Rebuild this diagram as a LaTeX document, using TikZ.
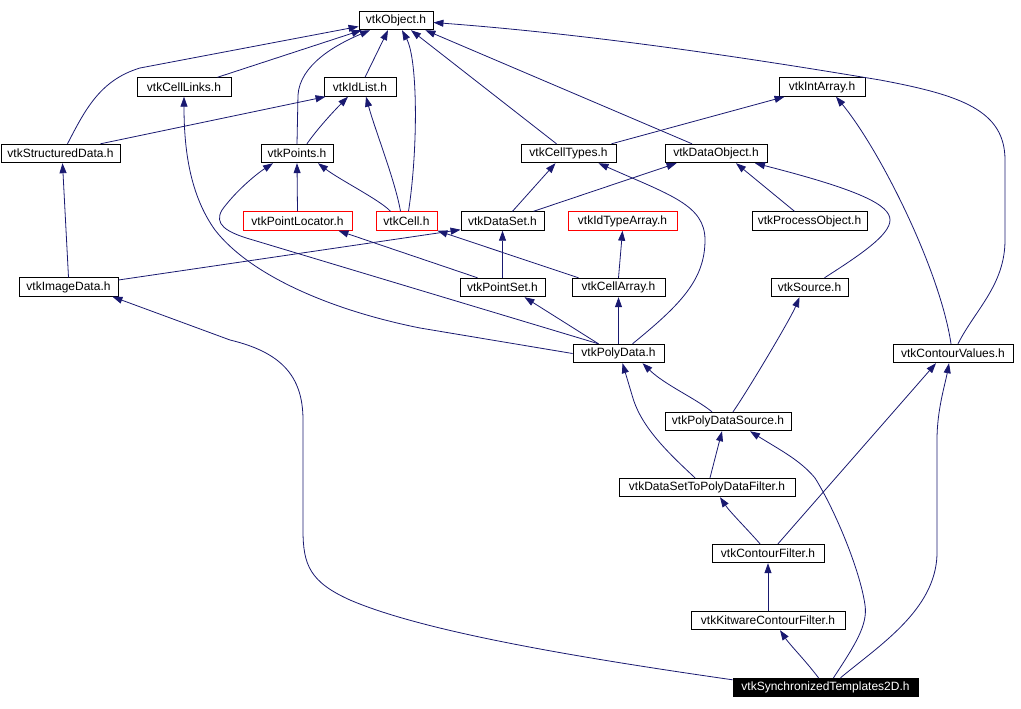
\documentclass[tikz,border=0pt]{standalone}
\usepackage{fontspec}
\setsansfont{Liberation Sans}
\usepackage{xcolor}
\usepackage{tikz}
\usetikzlibrary{arrows.meta}
\definecolor{dgblue}{HTML}{191970}
\definecolor{dgred}{HTML}{FF0000}

\begin{document}
\begin{tikzpicture}[x=1pt, y=-1pt,
  hdr/.style={draw=black, line width=0.9pt, inner sep=0pt, minimum height=18.5pt,
    font=\sffamily\fontsize{12}{14}\selectfont, text=black},
  undoc/.style={hdr, draw=dgred},
  self/.style={hdr, fill=black, text=white},
  dep/.style={draw=dgblue, line width=0.8pt, -{Triangle[length=10pt,width=7pt]}}]
\useasboundingbox (0,0) rectangle (1021,709);
\node[hdr, minimum width=74pt] (obj) at (396,20.5) {vtkObject.h};
\node[hdr, minimum width=94pt] (links) at (184,87) {vtkCellLinks.h};
\node[hdr, minimum width=72pt] (idl) at (360,87) {vtkIdList.h};
\node[hdr, minimum width=86pt] (intarr) at (822,87) {vtkIntArray.h};
\node[hdr, minimum width=119pt] (sdata) at (60.5,153.5) {vtkStructuredData.h};
\node[hdr, minimum width=72pt] (pts) at (297,153.5) {vtkPoints.h};
\node[hdr, minimum width=95pt] (ctypes) at (568.5,153.5) {vtkCellTypes.h};
\node[hdr, minimum width=102pt] (dobj) at (716,153.5) {vtkDataObject.h};
\node[undoc, minimum width=109pt] (ploc) at (297.5,221) {vtkPointLocator.h};
\node[undoc, minimum width=61pt] (cell) at (406.5,221) {vtkCell.h};
\node[hdr, minimum width=83pt] (dset) at (502.5,221) {vtkDataSet.h};
\node[undoc, minimum width=109pt] (idta) at (622.5,221) {vtkIdTypeArray.h};
\node[hdr, minimum width=115pt] (pobj) at (809.5,221) {vtkProcessObject.h};
\node[hdr, minimum width=99pt] (img) at (68.5,287) {vtkImageData.h};
\node[hdr, minimum width=85pt] (pset) at (502.5,287.5) {vtkPointSet.h};
\node[hdr, minimum width=93pt] (carr) at (618.5,287.5) {vtkCellArray.h};
\node[hdr, minimum width=77pt] (src) at (809.5,287.5) {vtkSource.h};
\node[hdr, minimum width=91pt] (pdata) at (618.5,353.5) {vtkPolyData.h};
\node[hdr, minimum width=120pt] (cval) at (953,353.5) {vtkContourValues.h};
\node[hdr, minimum width=126pt] (pdsrc) at (728,421.5) {vtkPolyDataSource.h};
\node[hdr, minimum width=176pt] (ds2pd) at (707,487.5) {vtkDataSetToPolyDataFilter.h};
\node[hdr, minimum width=112pt] (cfilt) at (768,553.5) {vtkContourFilter.h};
\node[hdr, minimum width=154pt] (kcf) at (768,620.5) {vtkKitwareContourFilter.h};
\node[self, minimum width=185pt] (sync) at (825.5,687.5) {vtkSynchronizedTemplates2D.h};
\draw[dep] ([xshift=7pt]sdata.north) .. controls (85,110) and (100,80) .. (140,68) -- ([yshift=-6pt]obj.west);
\draw[dep] ([xshift=-14pt]links.north east) -- ([xshift=3pt]obj.south west);
\draw[dep] (pts.north) -- (298,95) .. controls (300,65) and (335,45) .. ([xshift=-26pt]obj.south);
\draw[dep] ([xshift=5pt]idl.north) -- ([xshift=-8pt]obj.south);
\draw[dep] ([xshift=2pt]cell.north) .. controls (418,150) and (418,60) .. ([xshift=6pt]obj.south);
\draw[dep] ([xshift=-12pt]ctypes.north) -- ([xshift=15pt]obj.south);
\draw[dep] ([xshift=-24pt]dobj.north) -- ([xshift=-8pt]obj.south east);
\draw[dep] ([xshift=5pt]cval.north) .. controls (975,310) and (1005,285) .. (1005,240) -- (1005,160)
  .. controls (1005,110) and (960,95) .. (880,80) .. controls (760,60) and (600,35) .. ([yshift=-2pt]obj.east);
\draw[dep] ([xshift=40pt]sdata.north) -- ([xshift=2pt]idl.south west);
\draw[dep] ([xshift=10pt]pts.north) .. controls (315,132) and (330,115) .. ([xshift=-12pt]idl.south);
\draw[dep] ([xshift=-6pt]cell.north) .. controls (395,180) and (375,130) .. ([xshift=6pt]idl.south);
\draw[dep] ([xshift=43pt]ctypes.north) -- ([xshift=6pt]intarr.south west);
\draw[dep] (img.north) -- ([xshift=2pt]sdata.south);
\draw[dep] (ploc.north) -- (pts.south);
\draw[dep] ([xshift=-16pt]cell.north) .. controls (380,200) and (340,180) .. ([xshift=21pt]pts.south);
\draw[dep] ([xshift=-20pt]pdata.north) -- (253,240) .. controls (225,232) and (214,224) .. (222,210)
  .. controls (235,192) and (255,175) .. ([xshift=-24pt]pts.south);
\draw[dep] (pdata.west) -- (420,328) .. controls (330,310) and (250,275) .. (215,230)
  .. controls (190,195) and (184,150) .. (links.south);
\draw[dep] ([xshift=10pt]dset.north) -- ([xshift=-13pt]ctypes.south);
\draw[dep] ([xshift=31pt]dset.north) -- ([xshift=12pt]dobj.south west);
\draw[dep] ([xshift=14pt]pdata.north) .. controls (680,305) and (705,280) .. (705,240)
  .. controls (705,205) and (670,195) .. ([xshift=30pt]ctypes.south);
\draw[dep] ([xshift=-15pt]pobj.north) -- ([xshift=20pt]dobj.south);
\draw[dep] ([xshift=15pt]src.north) .. controls (860,255) and (890,235) .. (890,220)
  .. controls (890,205) and (860,190) .. ([xshift=39pt]dobj.south);
\draw[dep] ([yshift=7pt]img.east) -- ([yshift=1pt]dset.south west);
\draw[dep] (pset.north) -- (dset.south);
\draw[dep] ([xshift=-40pt]carr.north) -- (cell.south east);
\draw[dep] ([xshift=-25pt]pset.north) -- ([xshift=-14pt]ploc.south east);
\draw[dep] (carr.north) -- (idta.south);
\draw[dep] ([xshift=-20pt]pdata.north) -- ([xshift=22pt]pset.south);
\draw[dep] (pdata.north) -- (carr.south);
\draw[dep] ([xshift=-16pt]pdsrc.north) .. controls (695,398) and (665,385) .. ([xshift=24pt]pdata.south);
\draw[dep] ([xshift=5pt]pdsrc.north) .. controls (745,395) and (790,320) .. ([xshift=-10pt]src.south);
\draw[dep] ([xshift=-12pt]ds2pd.north) .. controls (665,450) and (640,425) .. (632,395) -- ([xshift=4pt]pdata.south);
\draw[dep] ([xshift=3pt]ds2pd.north) -- ([xshift=-6pt]pdsrc.south);
\draw[dep] ([xshift=-8pt]cfilt.north) .. controls (748,530) and (730,512) .. ([xshift=13pt]ds2pd.south);
\draw[dep] ([xshift=10pt]cfilt.north) -- ([xshift=-17pt]cval.south);
\draw[dep] (kcf.north) -- (cfilt.south);
\draw[dep] ([xshift=-7pt]sync.north) .. controls (805,660) and (790,645) .. ([xshift=12pt]kcf.south);
\draw[dep] ([xshift=8pt]sync.north) .. controls (855,645) and (868,625) .. (865,605)
  .. controls (860,570) and (835,510) .. (815,478) .. controls (800,460) and (780,450) .. ([xshift=22pt]pdsrc.south);
\draw[dep] ([xshift=15pt]sync.north) .. controls (880,645) and (935,610) .. (937,555) -- (937,440)
  .. controls (937,410) and (945,385) .. ([xshift=-4pt]cval.south);
\draw[dep] ([yshift=-2pt]sync.north west) .. controls (560,655) and (420,630) .. (350,600)
  .. controls (310,582) and (303,565) .. (303,530) -- (303,420)
  .. controls (303,375) and (280,352) .. (230,340) -- ([xshift=-6pt]img.south east);
\draw[dep] ([xshift=-2pt]cval.north) .. controls (940,270) and (880,150) .. ([xshift=14pt]intarr.south);
\end{tikzpicture}
\end{document}
